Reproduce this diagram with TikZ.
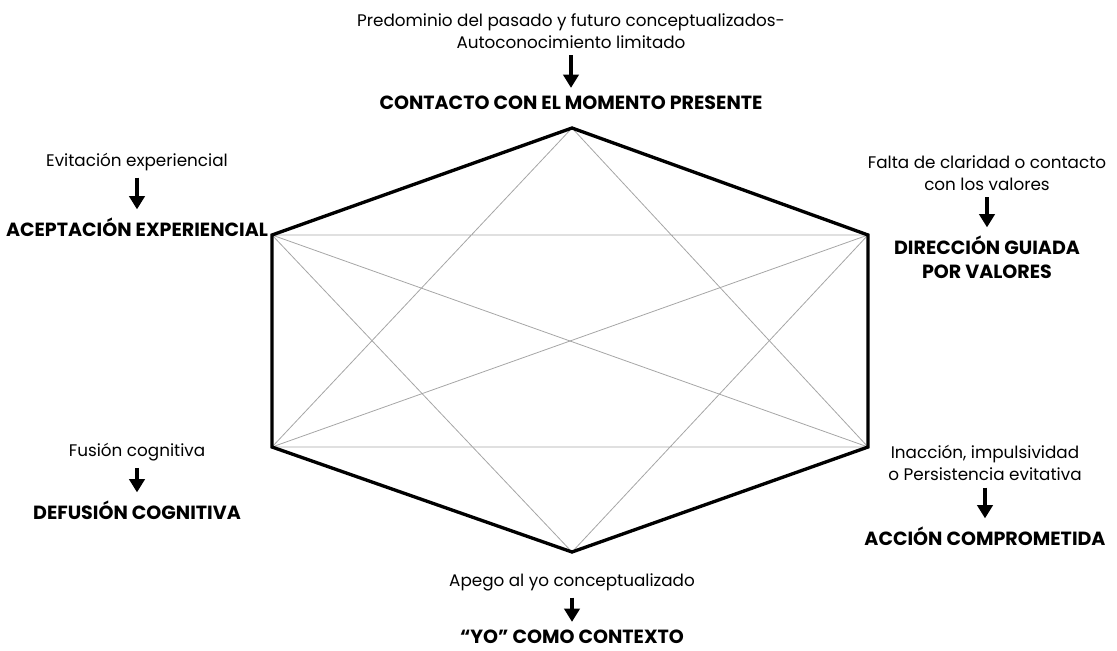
\documentclass[tikz,border=0pt]{standalone}
\usepackage{fontspec}
\setmainfont{Poppins}
\usetikzlibrary{arrows.meta}

\tikzset{
  cause/.style={align=center,font=\fontsize{12.6}{16.5}\selectfont,inner sep=1pt},
  pillar/.style={align=center,font=\fontsize{14.3}{18}\selectfont\bfseries,inner sep=1pt},
  push/.style={line width=3pt,-{Triangle[width=11.5pt,length=10pt]},shorten <=4pt,shorten >=5pt},
  rim/.style={line width=2.5pt},
  chord/.style={gray!70,line width=0.6pt}
}

\begin{document}
\begin{tikzpicture}[x=0.75pt,y=-0.75pt]
            \useasboundingbox (0,0) rectangle (1117,650);
            % hexagon corners
            \coordinate (T) at (572,128);
            \coordinate (UR) at (868,235);
            \coordinate (LR) at (868,447);
            \coordinate (B) at (572,552);
            \coordinate (LL) at (272,447);
            \coordinate (UL) at (272,235);
            \draw[chord] (T) -- (LL) (T) -- (LR) (UL) -- (UR) (UL) -- (B) (UL) -- (LR);
            \draw[chord] (UR) -- (B) (UR) -- (LL) (LL) -- (LR);
            \draw[rim] (T) -- (UR) -- (LR) -- (B) -- (LL) -- (UL) -- cycle;
            % top
            \node[cause] (pastfuture) at (571,31) {Predominio del pasado y futuro conceptualizados-\\Autoconocimiento limitado};
            \node[pillar] (present) at (571,103) {CONTACTO CON EL MOMENTO PRESENTE};
            \draw[push] (pastfuture) -- (present);
            % upper left
            \node[cause] (avoid) at (137,162) {Evitación experiencial};
            \node[pillar] (accept) at (137,227) {ACEPTACIÓN EXPERIENCIAL};
            \draw[push] (avoid) -- (accept);
            % upper right
            \node[cause] (novalues) at (987,173) {Falta de claridad o contacto\\con los valores};
            \node[pillar] (values) at (987,257) {DIRECCIÓN GUIADA\\POR VALORES};
            \draw[push] (novalues) -- (values);
            % lower left
            \node[cause] (fusion) at (137,452) {Fusión cognitiva};
            \node[pillar] (defusion) at (137,510) {DEFUSIÓN COGNITIVA};
            \draw[push] (fusion) -- (defusion);
            % lower right
            \node[cause] (inaction) at (985,463) {Inacción, impulsividad\\o Persistencia evitativa};
            \node[pillar] (action) at (985,536) {ACCIÓN COMPROMETIDA};
            \draw[push] (inaction) -- (action);
            % bottom
            \node[cause] (selfconcept) at (572,582) {Apego al yo conceptualizado};
            \node[pillar] (context) at (572,637) {“YO” COMO CONTEXTO};
            \draw[push] (selfconcept) -- (context);
        \end{tikzpicture}
\end{document}
